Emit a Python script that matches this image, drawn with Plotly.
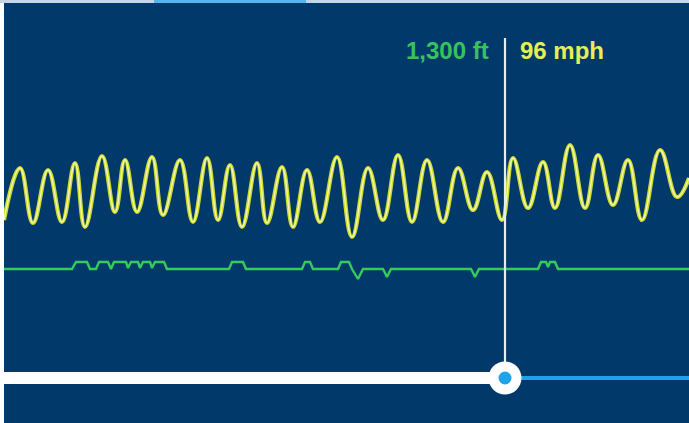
import plotly.graph_objects as go

W, H = 689, 423

# ---- data (chart units: higher value = higher on chart) ----
speed_x = [4, 20, 33, 48, 62, 75, 85, 102, 115, 125, 137, 152, 163, 180, 193, 207, 218, 230, 242, 257,
           267, 282, 293, 307, 320, 337, 352, 368, 383, 398, 412, 427, 443, 458, 473, 487, 502, 513, 528,
           543, 555, 570, 585, 598, 613, 628, 642, 660, 677, 689]
speed_y = [203, 255, 200, 253, 201, 260, 196, 267, 211, 263, 211, 266, 208, 263, 201, 265, 203, 258, 196, 260,
           200, 256, 196, 253, 201, 266, 186, 255, 203, 268, 201, 263, 201, 255, 213, 251, 203, 265, 215,
           261, 215, 278, 215, 268, 218, 263, 203, 273, 226, 245]

alt_x = [4, 72, 76, 87, 90, 96, 99, 108, 111, 114, 126, 128, 131, 138, 140, 143, 150, 152, 155, 164, 167,
         229, 232, 243, 246, 302, 305, 310, 313, 338, 341, 349, 352, 358, 363, 383, 387, 391, 471, 475, 479,
         538, 541, 546, 548, 550, 555, 558, 689]
alt_y = [154, 154, 161, 161, 154, 154, 161, 161, 154, 161, 161, 155, 161, 161, 155, 161, 161, 155, 161, 161, 154,
         154, 161, 161, 154, 154, 161, 161, 154, 154, 161, 161, 154, 144, 154, 154, 146, 154, 154, 146, 154,
         154, 161, 161, 156, 161, 161, 154, 154]

track_start, track_end = 4, 689
cursor_x = 505
track_y = 45
cursor_top = 385
alt_label = "1,300 ft"
speed_label = "96 mph"

BG = "#02396b"
GREEN = "#34ca5c"
TRACK_BLUE = "#1ea4e6"

fig = go.Figure()

# speed line (glow + core)
fig.add_trace(go.Scatter(x=speed_x, y=speed_y, mode="lines",
                         line=dict(color="rgba(215,228,40,0.95)", width=4.2, shape="spline", smoothing=1.2),
                         hoverinfo="skip"))
fig.add_trace(go.Scatter(x=speed_x, y=speed_y, mode="lines",
                         line=dict(color="#f4f7b8", width=1.3, shape="spline", smoothing=1.2),
                         hoverinfo="skip"))
# altitude line
fig.add_trace(go.Scatter(x=alt_x, y=alt_y, mode="lines",
                         line=dict(color=GREEN, width=2.4),
                         hoverinfo="skip"))

# cursor line
fig.add_trace(go.Scatter(x=[cursor_x, cursor_x], y=[cursor_top, track_y], mode="lines",
                         line=dict(color="#e4ecf4", width=2.2), hoverinfo="skip"))

# track: played (white) and remaining (blue)
fig.add_trace(go.Scatter(x=[cursor_x, track_end], y=[track_y, track_y], mode="lines",
                         line=dict(color=TRACK_BLUE, width=4), hoverinfo="skip"))
fig.add_trace(go.Scatter(x=[track_start, cursor_x], y=[track_y, track_y], mode="lines",
                         line=dict(color="white", width=12), hoverinfo="skip"))
# handle
fig.add_trace(go.Scatter(x=[cursor_x], y=[track_y], mode="markers",
                         marker=dict(size=33, color="white", line=dict(width=0)), hoverinfo="skip"))
fig.add_trace(go.Scatter(x=[cursor_x], y=[track_y], mode="markers",
                         marker=dict(size=13, color=TRACK_BLUE, line=dict(width=0)), hoverinfo="skip"))

# labels
fig.add_annotation(x=cursor_x - 14, y=373, xref="x", yref="y", text="<b>" + alt_label + "</b>",
                   showarrow=False, xanchor="right", yanchor="middle",
                   font=dict(family="Liberation Sans, Arial", size=24, color="#38c25e"))
fig.add_annotation(x=cursor_x + 13, y=373, xref="x", yref="y", text="<b>" + speed_label + "</b>",
                   showarrow=False, xanchor="left", yanchor="middle",
                   font=dict(family="Liberation Sans, Arial", size=24, color="#e6ee55"))

# frame details: left white border and top strip
fig.add_shape(type="rect", xref="paper", yref="paper", x0=0, x1=4 / W, y0=0, y1=1,
              fillcolor="white", line=dict(width=0), layer="above")
fig.add_shape(type="rect", xref="paper", yref="paper", x0=0, x1=1, y0=1 - 3 / H, y1=1,
              fillcolor="#c4d6e6", line=dict(width=0), layer="above")
fig.add_shape(type="rect", xref="paper", yref="paper", x0=154 / W, x1=306 / W, y0=1 - 3 / H, y1=1,
              fillcolor="#58b4ee", line=dict(width=0), layer="above")

fig.update_layout(
    width=W, height=H,
    margin=dict(l=0, r=0, t=0, b=0),
    paper_bgcolor=BG, plot_bgcolor=BG,
    showlegend=False,
    xaxis=dict(range=[0, W], visible=False, fixedrange=True),
    yaxis=dict(range=[0, H], visible=False, fixedrange=True),
)

fig.write_html("out.html", config={"displayModeBar": False},
               post_script="document.body.style.margin='0';document.body.style.overflow='hidden';")
